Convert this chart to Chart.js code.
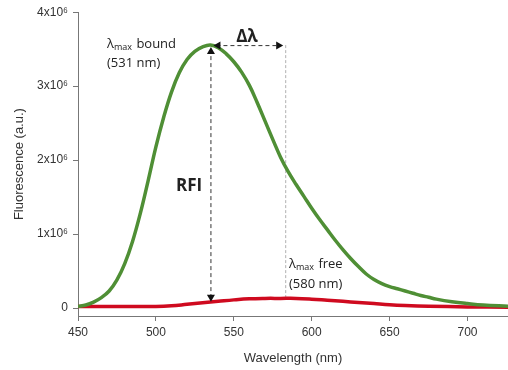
<!DOCTYPE html>
<html>
<head>
<meta charset="utf-8">
<script src="https://cdn.jsdelivr.net/npm/chart.js@4"></script>
<style>
  html, body { margin: 0; padding: 0; background: #fff; }
  #wrap { width: 508px; height: 370px; position: relative; }
</style>
</head>
<body>
<div id="wrap"><canvas id="chart"></canvas></div>
<script>
// wavelengths (nm) and intensities (x10^6 a.u.)
const boundWl = [450, 455, 460, 465, 470, 475, 480, 485, 490, 495, 500, 505, 510, 515, 520, 525, 530, 535,
  540, 545, 550, 555, 560, 565, 570, 575, 580, 585, 590, 595, 600, 605, 610, 615, 620, 625, 630, 635,
  640, 645, 650, 655, 660, 665, 670, 675, 680, 690, 700, 710, 726];
const boundVal = [0.02, 0.04, 0.08, 0.14, 0.23, 0.38, 0.60, 0.90, 1.28, 1.72, 2.18, 2.58, 2.92, 3.18, 3.36, 3.47, 3.53, 3.555,
  3.52, 3.44, 3.33, 3.19, 3.01, 2.78, 2.53, 2.28, 2.04, 1.84, 1.67, 1.51, 1.35, 1.20, 1.06, 0.92, 0.79, 0.67, 0.56, 0.46,
  0.385, 0.33, 0.29, 0.26, 0.23, 0.20, 0.17, 0.145, 0.12, 0.085, 0.06, 0.04, 0.025];

const freeWl = [450, 470, 490, 500, 510, 520, 530, 540, 550, 560, 570, 580, 590, 600, 610, 620, 630, 640, 650, 660, 675, 700, 726];
const freeVal = [0.02, 0.02, 0.02, 0.02, 0.03, 0.05, 0.07, 0.09, 0.11, 0.125, 0.13, 0.13, 0.13, 0.12, 0.105, 0.09, 0.075, 0.06, 0.045, 0.035, 0.025, 0.015, 0.01];

const yTicks = [0, 1e6, 2e6, 3e6, 4e6];
const xTicks = [450, 500, 550, 600, 650, 700];

// annotation anchors (data units)
const peakWl = 535, peakVal = 3.555e6;
const freeMaxWl = 583;

const toPoints = (xs, ys) => xs.map((x, i) => ({ x: x, y: ys[i] * 1e6 }));

function arrowHead(ctx, x, y, dir) {
  const s = 4;
  ctx.beginPath();
  if (dir === "up") { ctx.moveTo(x, y); ctx.lineTo(x - s, y + 7); ctx.lineTo(x + s, y + 7); }
  if (dir === "down") { ctx.moveTo(x, y); ctx.lineTo(x - s, y - 7); ctx.lineTo(x + s, y - 7); }
  if (dir === "left") { ctx.moveTo(x, y); ctx.lineTo(x + 7, y - s); ctx.lineTo(x + 7, y + s); }
  if (dir === "right") { ctx.moveTo(x, y); ctx.lineTo(x - 7, y - s); ctx.lineTo(x - 7, y + s); }
  ctx.closePath();
  ctx.fill();
}

const annotations = {
  id: "annotations",
  beforeDatasetsDraw(chart) {
    const { ctx, scales } = chart;
    const x = scales.x, y = scales.y;
    const py = y.getPixelForValue(peakVal);
    const fx = x.getPixelForValue(freeMaxWl);
    ctx.save();
    // dotted grey line at free maximum
    ctx.strokeStyle = "#b0b0b0";
    ctx.lineWidth = 1;
    ctx.setLineDash([3, 2]);
    ctx.beginPath();
    ctx.moveTo(fx + 0.5, py);
    ctx.lineTo(fx + 0.5, y.getPixelForValue(0.14e6));
    ctx.stroke();
    ctx.restore();
  },
  afterDatasetsDraw(chart) {
    const { ctx, scales } = chart;
    const x = scales.x, y = scales.y;
    const px = x.getPixelForValue(peakWl);
    const py = y.getPixelForValue(peakVal);
    const fx = x.getPixelForValue(freeMaxWl);
    const bottom = y.getPixelForValue(0.085e6);
    ctx.save();
    ctx.strokeStyle = "#333";
    ctx.fillStyle = "#111";
    ctx.lineWidth = 1;
    ctx.setLineDash([4, 3]);
    // RFI vertical arrow
    ctx.beginPath();
    ctx.moveTo(px + 0.5, py + 4);
    ctx.lineTo(px + 0.5, bottom - 4);
    ctx.stroke();
    // delta lambda horizontal arrow
    ctx.beginPath();
    ctx.moveTo(px + 6, py + 0.5);
    ctx.lineTo(fx - 4, py + 0.5);
    ctx.stroke();
    ctx.setLineDash([]);
    arrowHead(ctx, px + 0.5, py + 2, "up");
    arrowHead(ctx, px + 0.5, bottom, "down");
    arrowHead(ctx, px + 3, py + 0.5, "left");
    arrowHead(ctx, fx - 2, py + 0.5, "right");

    // labels
    ctx.fillStyle = "#222";
    ctx.textBaseline = "alphabetic";
    ctx.textAlign = "left";
    const plain = "13px 'Open Sans', sans-serif";
    const sub = "9px 'Open Sans', sans-serif";
    function lambdaMax(tx, ty, rest) {
      ctx.font = plain;
      ctx.fillText("\u03bb", tx, ty);
      let w = ctx.measureText("\u03bb").width;
      ctx.font = sub;
      ctx.fillText("max", tx + w, ty + 2);
      w += ctx.measureText("max").width;
      ctx.font = plain;
      ctx.fillText(rest, tx + w + 1, ty);
    }
    lambdaMax(107, 48, " bound");
    ctx.font = plain;
    ctx.fillText("(531 nm)", 107, 67);
    lambdaMax(289, 268, " free");
    ctx.font = plain;
    ctx.fillText("(580 nm)", 289, 288);

    ctx.font = "bold 17px 'Open Sans', sans-serif";
    ctx.textAlign = "center";
    ctx.fillText("\u0394\u03bb", 247, 42);
    ctx.fillText("RFI", 189, 191);
    ctx.restore();
  },
};

new Chart(document.getElementById("chart"), {
  type: "line",
  data: {
    datasets: [
      {
        label: "bound",
        data: toPoints(boundWl, boundVal),
        borderColor: "#4f8f35",
        borderWidth: 3.5,
        pointRadius: 0,
        tension: 0.4,
        fill: false,
      },
      {
        label: "free",
        data: toPoints(freeWl, freeVal),
        borderColor: "#cf0a1f",
        borderWidth: 3.5,
        pointRadius: 0,
        tension: 0.4,
        fill: false,
      },
    ],
  },
  plugins: [annotations],
  options: {
    responsive: true,
    maintainAspectRatio: false,
    animation: false,
    layout: { padding: { top: 11, right: 0, left: 0, bottom: 0 } },
    plugins: {
      legend: { display: false },
      tooltip: { enabled: false },
    },
    scales: {
      x: {
        type: "linear",
        min: 450,
        max: 726,
        afterBuildTicks: (scale) => { scale.ticks = xTicks.map((v) => ({ value: v })); },
        afterFit: (scale) => { scale.height = 54; },
        grid: { drawOnChartArea: false, drawTicks: true, tickLength: 5, color: "#777" },
        border: { display: true, color: "#777", width: 1 },
        ticks: { color: "#333", padding: 4, font: { family: "'Liberation Sans', Arial, sans-serif", size: 12 }, maxRotation: 0 },
        title: {
          display: true,
          text: "Wavelength (nm)",
          color: "#333",
          font: { family: "'Liberation Sans', Arial, sans-serif", size: 13 },
          padding: { top: 0, bottom: 4 },
        },
      },
      y: {
        min: -0.108e6,
        max: 4e6,
        afterBuildTicks: (scale) => { scale.ticks = yTicks.map((v) => ({ value: v })); },
        afterFit: (scale) => { scale.width = 78; },
        grid: { drawOnChartArea: false, drawTicks: true, tickLength: 5, color: "#777" },
        border: { display: true, color: "#777", width: 1 },
        ticks: {
          color: "#333",
          padding: 5,
          font: { family: "'Liberation Sans', Arial, sans-serif", size: 12 },
          callback: (v) => (v === 0 ? "0" : v / 1e6 + "x10\u2076"),
        },
        title: {
          display: true,
          text: "Fluorescence (a.u.)",
          color: "#333",
          font: { family: "'Liberation Sans', Arial, sans-serif", size: 13 },
          padding: { top: 12, bottom: 0 },
        },
      },
    },
  },
});
</script>
</body>
</html>
